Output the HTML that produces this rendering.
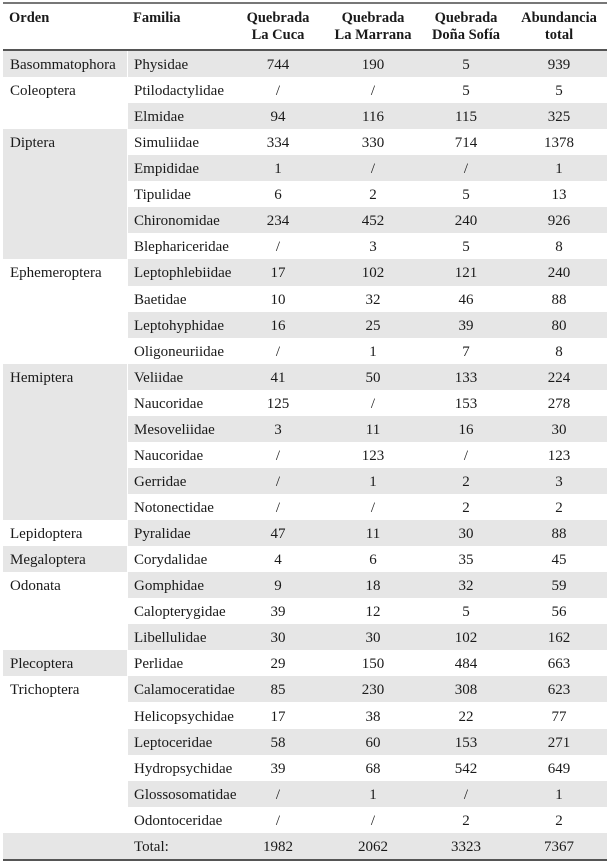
<!DOCTYPE html>
<html><head><meta charset="utf-8"><style>
body{margin:0;width:611px;height:864px;background:#fff;position:relative;overflow:hidden;font-family:"Liberation Serif",serif;font-size:15px;color:#1a1a1a}
.a{position:absolute;white-space:nowrap}
.s{position:absolute;background:#e6e6e6}
.c{position:absolute;text-align:center;white-space:nowrap}
.h{font-weight:bold;line-height:17px;font-size:14.5px}
</style></head><body>
<div class="s" style="left:3px;top:2px;width:604px;height:2px;background:#777"></div>
<div class="s" style="left:3px;top:49px;width:604px;height:2px;background:#555"></div>
<div class="a h" style="left:9px;top:10px">Orden</div>
<div class="a h" style="left:133px;top:10px">Familia</div>
<div class="c h" style="left:228px;width:100px;top:10px">Quebrada<br>La Cuca</div>
<div class="c h" style="left:323px;width:100px;top:10px">Quebrada<br>La Marrana</div>
<div class="c h" style="left:416px;width:100px;top:10px">Quebrada<br>Doña Sofía</div>
<div class="c h" style="left:509px;width:100px;top:10px">Abundancia<br>total</div>
<div id="t"></div>
<script>
var groups=[["Basommatophora",[["Physidae",744,190,5,939]]],
["Coleoptera",[["Ptilodactylidae","/","/",5,5],["Elmidae",94,116,115,325]]],
["Diptera",[["Simuliidae",334,330,714,1378],["Empididae",1,"/","/",1],["Tipulidae",6,2,5,13],["Chironomidae",234,452,240,926],["Blephariceridae","/",3,5,8]]],
["Ephemeroptera",[["Leptophlebiidae",17,102,121,240],["Baetidae",10,32,46,88],["Leptohyphidae",16,25,39,80],["Oligoneuriidae","/",1,7,8]]],
["Hemiptera",[["Veliidae",41,50,133,224],["Naucoridae",125,"/",153,278],["Mesoveliidae",3,11,16,30],["Naucoridae","/",123,"/",123],["Gerridae","/",1,2,3],["Notonectidae","/","/",2,2]]],
["Lepidoptera",[["Pyralidae",47,11,30,88]]],
["Megaloptera",[["Corydalidae",4,6,35,45]]],
["Odonata",[["Gomphidae",9,18,32,59],["Calopterygidae",39,12,5,56],["Libellulidae",30,30,102,162]]],
["Plecoptera",[["Perlidae",29,150,484,663]]],
["Trichoptera",[["Calamoceratidae",85,230,308,623],["Helicopsychidae",17,38,22,77],["Leptoceridae",58,60,153,271],["Hydropsychidae",39,68,542,649],["Glossosomatidae","/",1,"/",1],["Odontoceridae","/","/",2,2]]]];
var y0=51,rh=26.06,h="",i=0,cx=[278,373,466,559],o=6;
groups.forEach(function(g,gi){
 var top=y0+i*rh,n=g[1].length;
 if(gi%2==0)h+='<div class="s" style="left:3px;top:'+top+'px;width:124px;height:'+(n*rh)+'px"></div>';
 h+='<div class="a" style="left:10px;top:'+(top+o)+'px">'+g[0]+'</div>';
 g[1].forEach(function(r){
  var t=y0+i*rh;
  if(i%2==0)h+='<div class="s" style="left:128px;top:'+t+'px;width:479px;height:'+rh+'px"></div>';
  h+='<div class="a" style="left:134px;top:'+(t+o)+'px">'+r[0]+'</div>';
  for(var k=0;k<4;k++)h+='<div class="c" style="left:'+(cx[k]-40)+'px;width:80px;top:'+(t+o)+'px">'+r[k+1]+'</div>';
  i++;});
});
var t=y0+i*rh;
h+='<div class="s" style="left:3px;top:'+t+'px;width:604px;height:'+rh+'px"></div>';
h+='<div class="a" style="left:134px;top:'+(t+o)+'px">Total:</div>';
[1982,2062,3323,7367].forEach(function(v,k){h+='<div class="c" style="left:'+(cx[k]-40)+'px;width:80px;top:'+(t+o)+'px">'+v+'</div>';});
h+='<div class="s" style="left:3px;top:'+(t+rh)+'px;width:604px;height:2px;background:#555"></div>';
document.getElementById("t").innerHTML=h;
</script>
</body></html>
